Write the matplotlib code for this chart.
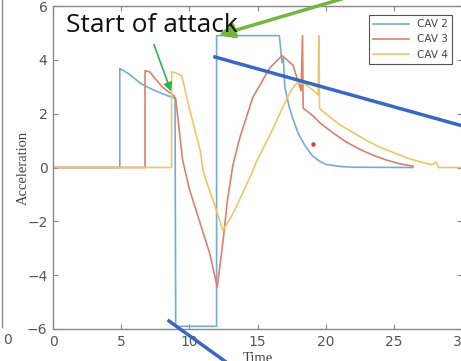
import numpy as np
import matplotlib
matplotlib.use('Agg')
import matplotlib.pyplot as plt
from matplotlib.lines import Line2D

# CAV 2
t2 = [0, 4.9, 4.9, 5.5, 6.0, 6.5, 7.0, 7.5, 8.0, 8.5, 8.95, 9.0, 12.0, 12.0, 16.6, 16.8, 16.9,
      17.0, 17.3, 17.6, 18.0, 18.5, 19.0, 19.5, 20.0, 21.0, 22.0, 26.4]
a2 = [0, 0, 3.68, 3.5, 3.3, 3.1, 2.97, 2.85, 2.75, 2.65, 2.58, -5.9, -5.9, 4.9, 4.9, 3.9, 4.05,
      3.0, 2.3, 1.8, 1.25, 0.8, 0.45, 0.25, 0.12, 0.04, 0.01, 0]
# CAV 3
t3 = [0, 6.75, 6.75, 7.1, 7.5, 8.0, 8.5, 8.9, 9.0, 9.5, 10.0, 10.5, 11.0, 11.5, 12.05, 12.5,
      12.8, 13.2, 13.7, 14.65, 15.9, 16.8, 17.6, 18.2, 18.3, 18.35, 19.0, 19.6, 20.5, 21.5,
      22.5, 23.5, 24.5, 25.5, 26.4]
a3 = [0, 0, 3.6, 3.55, 3.3, 3.0, 2.8, 2.65, 2.55, 0.3, -0.8, -1.6, -2.4, -3.2, -4.45, -2.6,
      -1.2, 0.1, 1.1, 2.6, 3.7, 4.16, 3.8, 2.85, 4.9, 2.2, 1.95, 1.65, 1.3, 0.95,
      0.68, 0.45, 0.27, 0.13, 0.05]
# CAV 4
t4 = [0, 8.7, 8.7, 9.0, 9.45, 10.0, 10.8, 11.0, 11.4, 12.0, 12.45, 13.0, 13.5, 14.0, 14.5,
      15.0, 15.5, 16.0, 16.5, 17.0, 17.5, 17.9, 18.5, 19.0, 19.45, 19.5, 19.55, 20.0, 21.0,
      22.0, 23.0, 24.0, 25.0, 26.0, 27.0, 27.8, 28.1, 28.3, 30]
a4 = [0, 0, 3.55, 3.52, 3.4, 2.2, 0.63, -0.1, -0.74, -1.6, -2.34, -1.9, -1.4, -0.85, -0.3,
      0.3, 0.8, 1.3, 1.85, 2.4, 2.9, 3.15, 3.1, 2.9, 2.7, 4.9, 2.2, 2.0, 1.6,
      1.3, 1.0, 0.75, 0.55, 0.35, 0.2, 0.1, 0.2, 0.0, 0]

series = [(t2, a2, 'CAV 2', '#74acd4'),
          (t3, a3, 'CAV 3', '#d9826a'),
          (t4, a4, 'CAV 4', '#efc56a')]

W, H = 461, 361
fig = plt.figure(figsize=(W / 100, H / 100), dpi=100)
ax = fig.add_axes([53 / W, 32 / H, 409 / W, 323 / H])

for t, a, name, col in series:
    ax.plot(t, a, color=col, lw=1.2, label=name)
ax.plot([19.1], [0.86], 'o', color='#e03838', ms=2.2)

ax.set_xlim(0, 30)
ax.set_ylim(-6, 6)
ax.set_xticks(range(0, 31, 5))
ax.set_yticks(range(-6, 7, 2))
ax.tick_params(direction='in', length=3.5, top=True, right=True, labelsize=10,
               labelcolor='#555555', color='#888888', pad=4)
for s in ax.spines.values():
    s.set_color('#888888')
    s.set_linewidth(1.0)

ax.set_ylabel('Acceleration', family='Liberation Serif', fontsize=10.5, color='#444444')
ax.yaxis.set_label_coords(-0.056, 0.5)
ax.set_xlabel('Time', family='Liberation Serif', fontsize=10.5, color='#444444', va='top')
ax.xaxis.set_label_coords(0.5, -0.071)

leg = ax.legend(loc='upper right', bbox_to_anchor=(0.9756, 0.972), borderaxespad=0,
                fontsize=7.5, handlelength=3.4, frameon=True, fancybox=False,
                framealpha=1, edgecolor='#555555', labelspacing=0.5)
leg.get_frame().set_linewidth(0.8)
for txt in leg.get_texts():
    txt.set_color('#444444')


def px(x, y):
    return (x / W, 1 - y / H)


# leftover of neighbouring subplot
fig.add_artist(Line2D([2 / W, 2 / W], [1, 1 - 327 / H], color='#888888', lw=1.0))
fig.text(*px(3, 340), '0', fontsize=10, color='#555555', va='center', ha='left')

# annotations
fig.text(*px(66, 32), 'Start of attack', family='Open Sans', fontsize=19, color='#111111',
         va='baseline', ha='left')
ax.annotate('', xy=px(172, 94), xytext=px(153, 42), xycoords='figure fraction',
            textcoords='figure fraction',
            arrowprops=dict(arrowstyle='-|>,head_length=0.5,head_width=0.25',
                            color='#2db34a', lw=1.2))
ax.annotate('', xy=px(216, 36), xytext=px(345, -2), xycoords='figure fraction',
            textcoords='figure fraction', annotation_clip=False,
            arrowprops=dict(arrowstyle='-|>,head_length=0.9,head_width=0.45',
                            color='#72b63c', lw=2.5))
fig.add_artist(Line2D([px(215, 57)[0], px(470, 128)[0]], [px(215, 57)[1], px(470, 128)[1]],
                      color='#3a66c4', lw=2.5))
fig.add_artist(Line2D([px(169, 321)[0], px(226, 362)[0]], [px(169, 321)[1], px(226, 362)[1]],
                      color='#3a66c4', lw=2.5))

fig.savefig('out.png', dpi=100)
